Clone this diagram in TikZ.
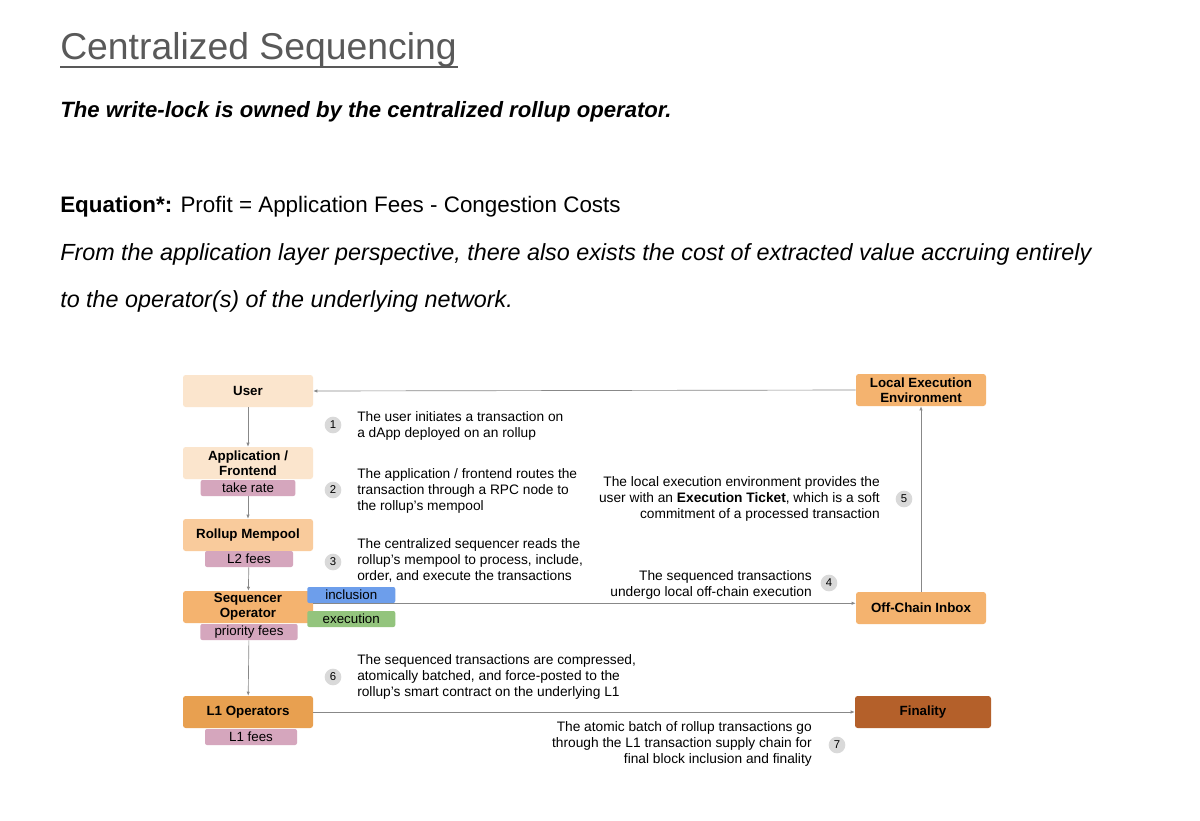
\documentclass[tikz,border=0pt]{standalone}
\usepackage{fontspec}
\setmainfont{Liberation Sans}
\usetikzlibrary{arrows.meta}
\definecolor{peach}{HTML}{FBE5CD}
\definecolor{lorange}{HTML}{F9CB9C}
\definecolor{morange}{HTML}{F4B36F}
\definecolor{dorange}{HTML}{E8A050}
\definecolor{brownf}{HTML}{B4602A}
\definecolor{fee}{HTML}{D5A6BD}
\definecolor{incl}{HTML}{6D9EEB}
\definecolor{exec}{HTML}{93C47D}
\definecolor{circ}{HTML}{D9D9D9}
\definecolor{lineg}{HTML}{888888}
\begin{document}
\begin{tikzpicture}[x=0.75pt,y=-0.75pt,
  box/.style={rounded corners=2pt,minimum width=97.5pt,minimum height=24pt,inner sep=1pt,font=\fontsize{10}{11}\selectfont\bfseries,align=center},
  feebox/.style={rounded corners=1.5pt,fill=fee,minimum height=12pt,inner sep=1pt,font=\fontsize{10}{11}\selectfont},
  tag/.style={rounded corners=1.5pt,minimum width=66pt,minimum height=12pt,inner sep=1pt,font=\fontsize{10}{11}\selectfont,anchor=west},
  num/.style={circle,fill=circ,minimum size=12.5pt,inner sep=0pt,font=\fontsize{8.5}{10}\selectfont},
  desc/.style={font=\fontsize{10.3}{12}\selectfont,inner sep=0pt},
  conn/.style={draw=lineg,line width=0.5pt},
  arr/.style={conn,-{Latex[length=3pt,width=2.5pt]}}]
\useasboundingbox (0,0) rectangle (1200,821);
\fill[white] (0,0) rectangle (1200,821);
% header
\node[anchor=base west,inner sep=0pt,text=black!65,font=\fontsize{28}{32}\selectfont] (title) at (60,60) {Centralized Sequencing};
\draw[black!65,line width=1pt] (60,67) -- (458,67);
\node[anchor=base west,inner sep=0pt,font=\fontsize{16.6}{19}\selectfont\bfseries\itshape] (sub) at (60,117) {The write-lock is owned by the centralized rollup operator.};
\node[anchor=base west,inner sep=0pt,font=\fontsize{16.8}{19}\selectfont] (eq) at (60,212) {\textbf{Equation*:} Profit = Application Fees - Congestion Costs};
\node[anchor=base west,inner sep=0pt,font=\fontsize{17.5}{20}\selectfont\itshape] (p1) at (60,260) {From the application layer perspective, there also exists the cost of extracted value accruing entirely};
\node[anchor=base west,inner sep=0pt,font=\fontsize{17.5}{20}\selectfont\itshape] (p2) at (60,307) {to the operator(s) of the underlying network.};
% boxes
\node[box,fill=peach] (user) at (248,391) {User};
\node[box,fill=morange] (lee) at (921,390) {Local Execution\\Environment};
\node[box,fill=peach] (app) at (248,463) {Application /\\Frontend};
\node[feebox,minimum width=71pt] (take) at (248,488) {take rate};
\node[box,fill=lorange] (mem) at (248,535) {Rollup Mempool};
\node[feebox,minimum width=66pt] (l2) at (249,559) {L2 fees};
\node[box,fill=morange] (seq) at (248,607) {Sequencer\\Operator};
\node[feebox,minimum width=73pt] (prio) at (249,632) {priority fees};
\node[tag,fill=incl] (inc) at (307,595) {inclusion};
\node[tag,fill=exec] (exe) at (307,619) {execution};
\node[box,fill=dorange] (l1) at (248,712) {L1 Operators};
\node[feebox,minimum width=69pt] (l1f) at (251,737) {L1 fees};
\node[box,fill=morange] (inbox) at (921,608) {Off-Chain Inbox};
\node[box,fill=brownf,minimum width=102pt] (fin) at (923,712) {Finality};
% connectors
\draw[arr] (user) -- (app);
\draw[arr] (take) -- (mem);
\draw[arr] (l2) -- (seq);
\draw[arr] (prio) -- (l1);
\draw[arr] (lee.west) -- (user.east);
\draw[arr] (seq.east|-inc.south) -- (inbox.west|-inc.south);
\draw[arr] (inbox) -- (lee);
\draw[arr] (l1) -- (fin);
% numbers
\node[num] (n1) at (333,425) {1};
\node[num] (n2) at (333,490) {2};
\node[num] (n3) at (333,562) {3};
\node[num] (n4) at (829,583) {4};
\node[num] (n5) at (904,499) {5};
\node[num] (n6) at (333,677) {6};
\node[num] (n7) at (837,745) {7};
% descriptions
\node[desc,anchor=west,align=left] (d1) at (357,426) {The user initiates a transaction on\\a dApp deployed on an rollup};
\node[desc,anchor=west,align=left] (d2) at (357,491) {The application / frontend routes the\\transaction through a RPC node to\\the rollup's mempool};
\node[desc,anchor=west,align=left] (d3) at (357,560) {The centralized sequencer reads the\\rollup's mempool to process, include,\\order, and execute the transactions};
\node[desc,anchor=east,align=right] (d5) at (880,499) {The local execution environment provides the\\user with an \textbf{Execution Ticket}, which is a soft\\commitment of a processed transaction};
\node[desc,anchor=east,align=right] (d4) at (812,585) {The sequenced transactions\\undergo local off-chain execution};
\node[desc,anchor=west,align=left] (d6) at (357,677) {The sequenced transactions are compressed,\\atomically batched, and force-posted to the\\rollup's smart contract on the underlying L1};
\node[desc,anchor=east,align=right] (d7) at (812,744) {The atomic batch of rollup transactions go\\through the L1 transaction supply chain for\\final block inclusion and finality};
\end{tikzpicture}
\end{document}
